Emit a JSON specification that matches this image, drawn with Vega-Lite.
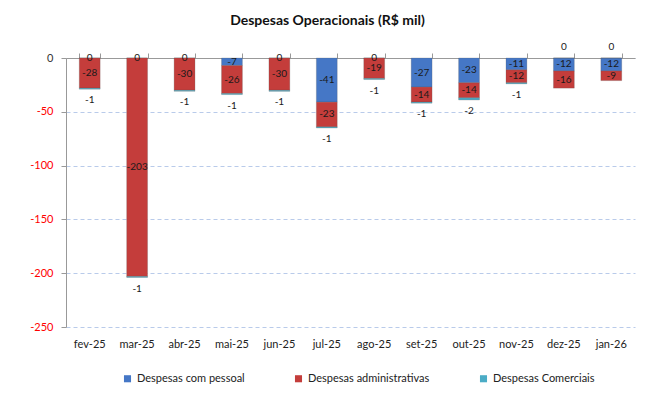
{
  "$schema": "https://vega.github.io/schema/vega-lite/v6.json",
  "width": 569,
  "height": 269,
  "autosize": {"type": "none"},
  "padding": {"left": 66, "top": 58, "right": 13, "bottom": 78},
  "background": "white",
  "config": {
    "font": "Lato",
    "view": {"stroke": null},
    "legend": {"labelFont": "Lato", "labelFontSize": 11, "labelColor": "#222"}
  },
  "title": {
    "text": "Despesas Operacionais (R$ mil)",
    "font": "Lato",
    "fontSize": 14,
    "fontWeight": "bold",
    "color": "#111",
    "anchor": "middle",
    "dx": -23,
    "offset": 14
  },
  "data": {
    "values": [
      {"month": "fev-25", "cat": "Despesas com pessoal", "value": 0},
      {"month": "fev-25", "cat": "Despesas administrativas", "value": -28},
      {"month": "fev-25", "cat": "Despesas Comerciais", "value": -1},
      {"month": "mar-25", "cat": "Despesas com pessoal", "value": 0},
      {"month": "mar-25", "cat": "Despesas administrativas", "value": -203},
      {"month": "mar-25", "cat": "Despesas Comerciais", "value": -1},
      {"month": "abr-25", "cat": "Despesas com pessoal", "value": 0},
      {"month": "abr-25", "cat": "Despesas administrativas", "value": -30},
      {"month": "abr-25", "cat": "Despesas Comerciais", "value": -1},
      {"month": "mai-25", "cat": "Despesas com pessoal", "value": -7},
      {"month": "mai-25", "cat": "Despesas administrativas", "value": -26},
      {"month": "mai-25", "cat": "Despesas Comerciais", "value": -1},
      {"month": "jun-25", "cat": "Despesas com pessoal", "value": 0},
      {"month": "jun-25", "cat": "Despesas administrativas", "value": -30},
      {"month": "jun-25", "cat": "Despesas Comerciais", "value": -1},
      {"month": "jul-25", "cat": "Despesas com pessoal", "value": -41},
      {"month": "jul-25", "cat": "Despesas administrativas", "value": -23},
      {"month": "jul-25", "cat": "Despesas Comerciais", "value": -1},
      {"month": "ago-25", "cat": "Despesas com pessoal", "value": 0},
      {"month": "ago-25", "cat": "Despesas administrativas", "value": -19},
      {"month": "ago-25", "cat": "Despesas Comerciais", "value": -1},
      {"month": "set-25", "cat": "Despesas com pessoal", "value": -27},
      {"month": "set-25", "cat": "Despesas administrativas", "value": -14},
      {"month": "set-25", "cat": "Despesas Comerciais", "value": -1},
      {"month": "out-25", "cat": "Despesas com pessoal", "value": -23},
      {"month": "out-25", "cat": "Despesas administrativas", "value": -14},
      {"month": "out-25", "cat": "Despesas Comerciais", "value": -2},
      {"month": "nov-25", "cat": "Despesas com pessoal", "value": -11},
      {"month": "nov-25", "cat": "Despesas administrativas", "value": -12},
      {"month": "nov-25", "cat": "Despesas Comerciais", "value": -1},
      {"month": "dez-25", "cat": "Despesas com pessoal", "value": -12},
      {"month": "dez-25", "cat": "Despesas administrativas", "value": -16},
      {"month": "dez-25", "cat": "Despesas Comerciais", "value": 0},
      {"month": "jan-26", "cat": "Despesas com pessoal", "value": -12},
      {"month": "jan-26", "cat": "Despesas administrativas", "value": -9},
      {"month": "jan-26", "cat": "Despesas Comerciais", "value": 0}
    ]
  },
  "transform": [
    {"stack": "value", "groupby": ["month"], "sort": [{"field": "cat", "order": "descending"}], "as": ["v0", "v1"]},
    {"calculate": "(datum.v0 + datum.v1) / 2", "as": "mid"}
  ],
  "layer": [
    {
      "mark": {"type": "bar", "stroke": "#555", "strokeWidth": 0.4, "strokeOpacity": 0.6},
      "encoding": {
        "x": {
          "field": "month", "type": "nominal", "sort": null,
          "scale": {"paddingInner": 0.56, "paddingOuter": 0.28},
          "axis": {"orient": "bottom", "title": null, "ticks": false, "domain": false, "tickSize": 0, "labelPadding": 11, "labelAngle": 0, "labelFontSize": 11, "labelColor": "#222", "labelFont": "Lato"}
        },
        "y": {
          "field": "v0", "type": "quantitative",
          "scale": {"domain": [-250, 0], "nice": false, "zero": false},
          "axis": {
            "title": null, "values": [-250, -200, -150, -100, -50, 0],
            "labelExpr": "'' + datum.value",
            "labelFontSize": 11, "labelFont": "Lato",
            "labelColor": {"expr": "datum.value < 0 ? '#ff0000' : '#333333'"},
            "domainColor": "#999", "tickColor": "#999", "tickSize": 5, "labelPadding": 8,
            "grid": true, "gridColor": "#b9cbea", "gridDash": [4, 3], "gridWidth": 1
          }
        },
        "y2": {"field": "v1"},
        "color": {
          "field": "cat", "type": "nominal",
          "scale": {"domain": ["Despesas com pessoal", "Despesas administrativas", "Despesas Comerciais"], "range": ["#4577c6", "#c43d3b", "#4bacc6"]},
          "legend": {"title": null, "orient": "none", "direction": "horizontal", "legendX": 56, "legendY": 315, "symbolType": "square", "symbolSize": 50, "symbolStrokeWidth": 0, "columnPadding": 48, "labelOffset": 4}
        }
      }
    },
    {
      "transform": [{"filter": "datum.cat !== 'Despesas Comerciais'"}],
      "mark": {"type": "text", "fontSize": 10, "color": "#1a1a1a", "baseline": "middle", "font": "Lato"},
      "encoding": {
        "x": {
          "field": "month", "type": "nominal", "sort": null,
          "axis": {"orient": "top", "title": null, "labels": false, "tickBand": "extent", "tickSize": 5, "tickColor": "#999", "domainColor": "#999"}
        },
        "y": {"field": "mid", "type": "quantitative"},
        "text": {"field": "value", "type": "nominal"}
      }
    },
    {
      "transform": [{"filter": "datum.cat === 'Despesas Comerciais' && datum.value !== 0"}],
      "mark": {"type": "text", "fontSize": 10, "color": "#1a1a1a", "baseline": "middle", "dy": 11, "font": "Lato"},
      "encoding": {
        "x": {"field": "month", "type": "nominal", "sort": null, "axis": null},
        "y": {"field": "v1", "type": "quantitative"},
        "text": {"field": "value", "type": "nominal"}
      }
    },
    {
      "transform": [{"filter": "datum.cat === 'Despesas Comerciais' && datum.value === 0"}],
      "mark": {"type": "text", "fontSize": 10, "color": "#1a1a1a", "baseline": "middle", "dy": -11, "font": "Lato"},
      "encoding": {
        "x": {"field": "month", "type": "nominal", "sort": null, "axis": null},
        "y": {"field": "value", "type": "quantitative"},
        "text": {"field": "value", "type": "nominal"}
      }
    }
  ],
  "resolve": {"axis": {"x": "independent"}}
}
